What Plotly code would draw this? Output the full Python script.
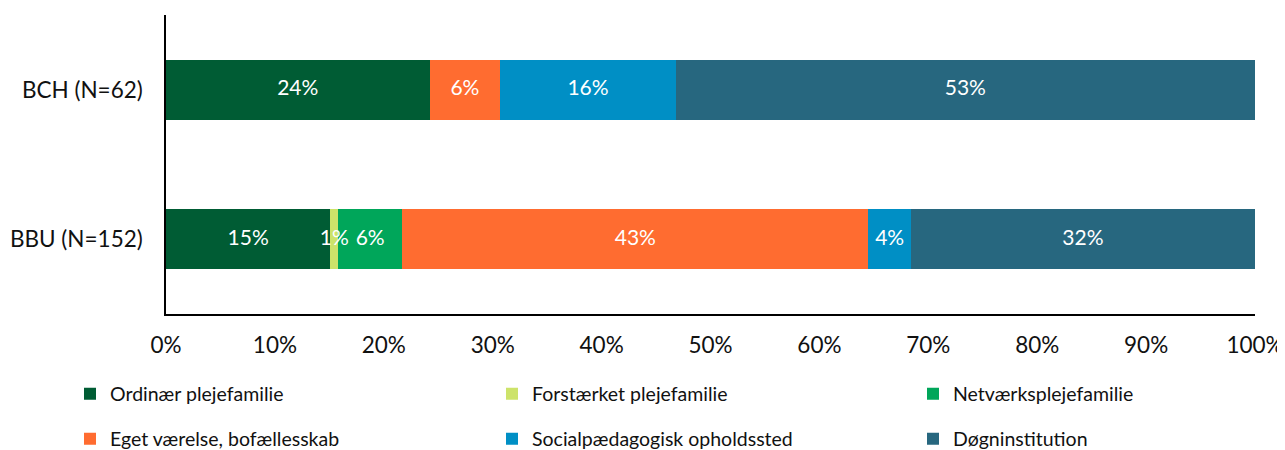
import plotly.graph_objects as go

categories = ["BBU (N=152)", "BCH (N=62)"]
series_names = [
    "Ordinær plejefamilie",
    "Forstærket plejefamilie",
    "Netværksplejefamilie",
    "Eget værelse, bofællesskab",
    "Socialpædagogisk opholdssted",
    "Døgninstitution",
]
# percentages per series: [BBU, BCH]
ordinaer = [15.1, 24.2]
forstaerket = [0.7, 0.0]
netvaerk = [5.9, 0.0]
eget = [42.8, 6.5]
social = [3.9, 16.1]
doegn = [31.6, 53.2]
series_values = [ordinaer, forstaerket, netvaerk, eget, social, doegn]
colors = ["#005C34", "#CDE36A", "#00A65A", "#FF6C30", "#008FC5", "#27677F"]
x_ticks = [0, 10, 20, 30, 40, 50, 60, 70, 80, 90, 100]
x_tick_labels = [f"{v}%" for v in x_ticks]

FONT = "Lato"
# page body has an 8px margin, so the figure is drawn 8px smaller and offset
OFF = 8
W, H = 1285 - OFF, 450 - OFF

# legend entry positions (page pixels): text start x, row centre y
legend_text_x = [108, 530, 951, 108, 530, 951]
legend_row_y = [394, 394, 394, 439, 439, 439]
legend_keys = ["legend", "legend2", "legend3", "legend4", "legend5", "legend6"]

fig = go.Figure()
for i, (name, vals, col) in enumerate(zip(series_names, series_values, colors)):
    fig.add_trace(go.Bar(
        y=categories, x=vals, name=name, orientation="h",
        marker=dict(color=col, line=dict(width=0)),
        hoverinfo="skip",
        legend=legend_keys[i],
        showlegend=True,
    ))

# value labels, centred on each segment, drawn above all bars
lab_x, lab_y, lab_t = [], [], []
for ci, cat in enumerate(categories):
    cum = 0.0
    for vals in series_values:
        v = vals[ci]
        if v > 0:
            lab_x.append(cum + v / 2)
            lab_y.append(cat)
            lab_t.append(f"{round(v):.0f}%")
        cum += v
fig.add_trace(go.Scatter(
    x=lab_x, y=lab_y, text=lab_t, mode="text",
    textposition="middle center",
    textfont=dict(color="white", size=21, family=FONT),
    showlegend=False, hoverinfo="skip", cliponaxis=False,
))

legend_layout = {}
for key, tx, ty in zip(legend_keys, legend_text_x, legend_row_y):
    legend_layout[key] = dict(
        orientation="h", xref="container", yref="container",
        x=(tx - OFF - 38) / W, y=1 - (ty - OFF) / H, xanchor="left", yanchor="middle",
        font=dict(size=19.5, family=FONT, color="#111111"),
        itemclick=False, itemdoubleclick=False, bgcolor="rgba(0,0,0,0)",
    )

fig.update_layout(
    barmode="stack",
    bargap=0.6,
    showlegend=True,
    width=W, height=H,
    margin=dict(l=166 - OFF, r=30, t=15 - OFF, b=136, autoexpand=False),
    plot_bgcolor="white", paper_bgcolor="white",
    font=dict(family=FONT, color="#111111", size=18),
    xaxis=dict(
        range=[0, 100], tickvals=x_ticks, ticktext=x_tick_labels,
        showgrid=False, zeroline=False, showline=True, linecolor="black", linewidth=1.5,
        ticks="", ticklabelstandoff=10, tickfont=dict(size=22.5, family=FONT),
        automargin=False,
    ),
    yaxis=dict(
        categoryorder="array", categoryarray=categories,
        range=[-0.5, 1.5],
        showgrid=False, zeroline=False, showline=True, linecolor="black", linewidth=1.5,
        ticks="", ticklabelstandoff=17, tickfont=dict(size=22.5, family=FONT),
        automargin=False,
    ),
    **legend_layout,
)

fig.write_html("out.html")
